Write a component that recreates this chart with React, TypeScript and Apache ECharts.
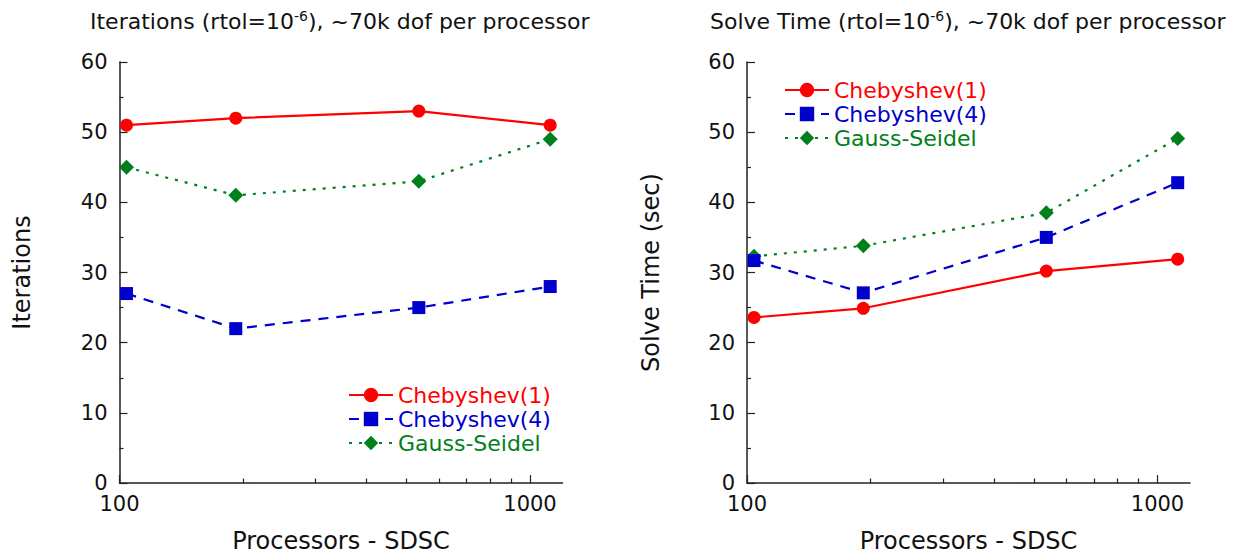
import React, { useEffect, useRef } from "react";
import * as echarts from "echarts";

const processors = [104, 192, 536, 1120];
const iterCheb1 = [51, 52, 53, 51];
const iterCheb4 = [27, 22, 25, 28];
const iterGS = [45, 41, 43, 49];
const timeCheb1 = [23.6, 24.9, 30.2, 31.9];
const timeCheb4 = [31.7, 27.1, 35.0, 42.8];
const timeGS = [32.3, 33.8, 38.5, 49.1];
const seriesNames = ["Chebyshev(1)", "Chebyshev(4)", "Gauss-Seidel"];
const xLabelValues = [100, 1000];
const xMinorValues = [200, 300, 400, 500, 600, 700, 800, 900];

const RED = "#ff0000";
const BLUE = "#0000cc";
const GREEN = "#00801a";
const FONT = "'DejaVu Sans', Verdana, sans-serif";
const INK = "#111111";

const pairs = (ys: number[]) => processors.map((x, i) => [x, ys[i]]);

export default function App() {
  const ref = useRef<HTMLDivElement>(null);
  useEffect(() => {
    if (!ref.current) return;
    const chart = echarts.init(ref.current, null, { renderer: "svg" });
    const grids = [
      { left: 119.5, top: 62, width: 443, height: 422 },
      { left: 747, top: 62, width: 443, height: 422 },
    ];
    const axisLine = { show: true, lineStyle: { color: "#222", width: 1.5 } };
    const tickLine = { color: "#222", width: 1.2 };
    const mainX = (gi: number) => ({
      type: "log",
      gridIndex: gi,
      position: "bottom",
      min: 100,
      max: 1200,
      logBase: 10,
      name: "Processors - SDSC",
      nameLocation: "middle",
      nameGap: 46,
      nameTextStyle: { fontSize: 24, color: INK, fontFamily: FONT },
      axisLine,
      axisTick: { show: true, inside: true, length: 8, customValues: xLabelValues, lineStyle: tickLine },
      axisLabel: {
        show: true,
        customValues: xLabelValues,
        fontSize: 21,
        color: INK,
        margin: 10,
        fontFamily: FONT,
        formatter: (v: number) => String(Math.round(v)),
      },
      splitLine: { show: false },
      minorTick: { show: false },
    });
    const minorX = (gi: number) => ({
      type: "log",
      gridIndex: gi,
      position: "bottom",
      min: 100,
      max: 1200,
      logBase: 10,
      axisLine: { show: false },
      axisTick: { show: true, inside: true, length: 4.5, customValues: xMinorValues, lineStyle: tickLine },
      axisLabel: { show: false },
      splitLine: { show: false },
    });
    const yAxis = (gi: number, name: string, gap: number) => ({
      type: "value",
      gridIndex: gi,
      min: 0,
      max: 60,
      interval: 10,
      name,
      nameLocation: "middle",
      nameGap: gap,
      nameTextStyle: { fontSize: 24, color: INK, fontFamily: FONT },
      axisLine,
      axisTick: { show: true, inside: true, length: 8, lineStyle: tickLine },
      minorTick: { show: true, splitNumber: 2, length: 4, lineStyle: tickLine },
      axisLabel: { fontSize: 21, color: INK, margin: 12, fontFamily: FONT },
      splitLine: { show: false },
    });
    const mk = (name: string, xi: number, yi: number, ys: number[]) => {
      const idx = seriesNames.indexOf(name);
      const color = [RED, BLUE, GREEN][idx];
      const symbol = ["circle", "rect", "diamond"][idx];
      const symbolSize = [13, 13, 15][idx];
      const type = ["solid", [10, 8], [3, 7]][idx];
      return {
        type: "line",
        name,
        xAxisIndex: xi,
        yAxisIndex: yi,
        data: pairs(ys),
        symbol,
        symbolSize,
        showSymbol: true,
        itemStyle: { color },
        lineStyle: { color, width: 2.2, type },
        emphasis: { disabled: true },
        z: 3 - idx,
      };
    };
    const richLeg = {
      a: { color: RED, fontSize: 22, fontFamily: FONT, lineHeight: 24 },
      b: { color: BLUE, fontSize: 22, fontFamily: FONT, lineHeight: 24 },
      c: { color: GREEN, fontSize: 22, fontFamily: FONT, lineHeight: 24 },
    };
    const legendCommon = {
      orient: "vertical",
      padding: 0,
      itemWidth: 44,
      itemHeight: 18,
      itemGap: 0,
      data: seriesNames,
      selectedMode: false,
      textStyle: { fontSize: 22, fontFamily: FONT, lineHeight: 24, rich: richLeg },
      formatter: (n: string) => `{${["a", "b", "c"][seriesNames.indexOf(n)]}|${n}}`,
    };
    const titleRich = {
      sup: { fontSize: 14, fontFamily: FONT, color: INK, padding: [0, 0, 10, 0] },
      n: { fontSize: 22, fontFamily: FONT, color: INK },
    };
    chart.setOption({
      animation: false,
      backgroundColor: "#ffffff",
      textStyle: { fontFamily: FONT },
      title: [
        {
          text: "{n|Iterations (rtol=10}{sup|-6}{n|), ~70k dof per processor}",
          left: 90,
          top: 9,
          padding: 0,
          textStyle: { fontWeight: "normal", rich: titleRich },
        },
        {
          text: "{n|Solve Time (rtol=10}{sup|-6}{n|), ~70k dof per processor}",
          left: 710,
          top: 9,
          padding: 0,
          textStyle: { fontWeight: "normal", rich: titleRich },
        },
      ],
      legend: [
        { ...legendCommon, left: 348, top: 383 },
        { ...legendCommon, left: 784, top: 78 },
      ],
      grid: grids,
      xAxis: [mainX(0), minorX(0), mainX(1), minorX(1)],
      yAxis: [yAxis(0, "Iterations", 86), yAxis(1, "Solve Time (sec)", 84)],
      series: [
        mk("Chebyshev(1)", 0, 0, iterCheb1),
        mk("Chebyshev(4)", 0, 0, iterCheb4),
        mk("Gauss-Seidel", 0, 0, iterGS),
        mk("Chebyshev(1)", 2, 1, timeCheb1),
        mk("Chebyshev(4)", 2, 1, timeCheb4),
        mk("Gauss-Seidel", 2, 1, timeGS),
      ],
    });
    return () => chart.dispose();
  }, []);
  return (
    <div
      ref={ref}
      style={{ position: "fixed", left: 0, top: 0, width: 1238, height: 558, background: "#fff" }}
    />
  );
}
